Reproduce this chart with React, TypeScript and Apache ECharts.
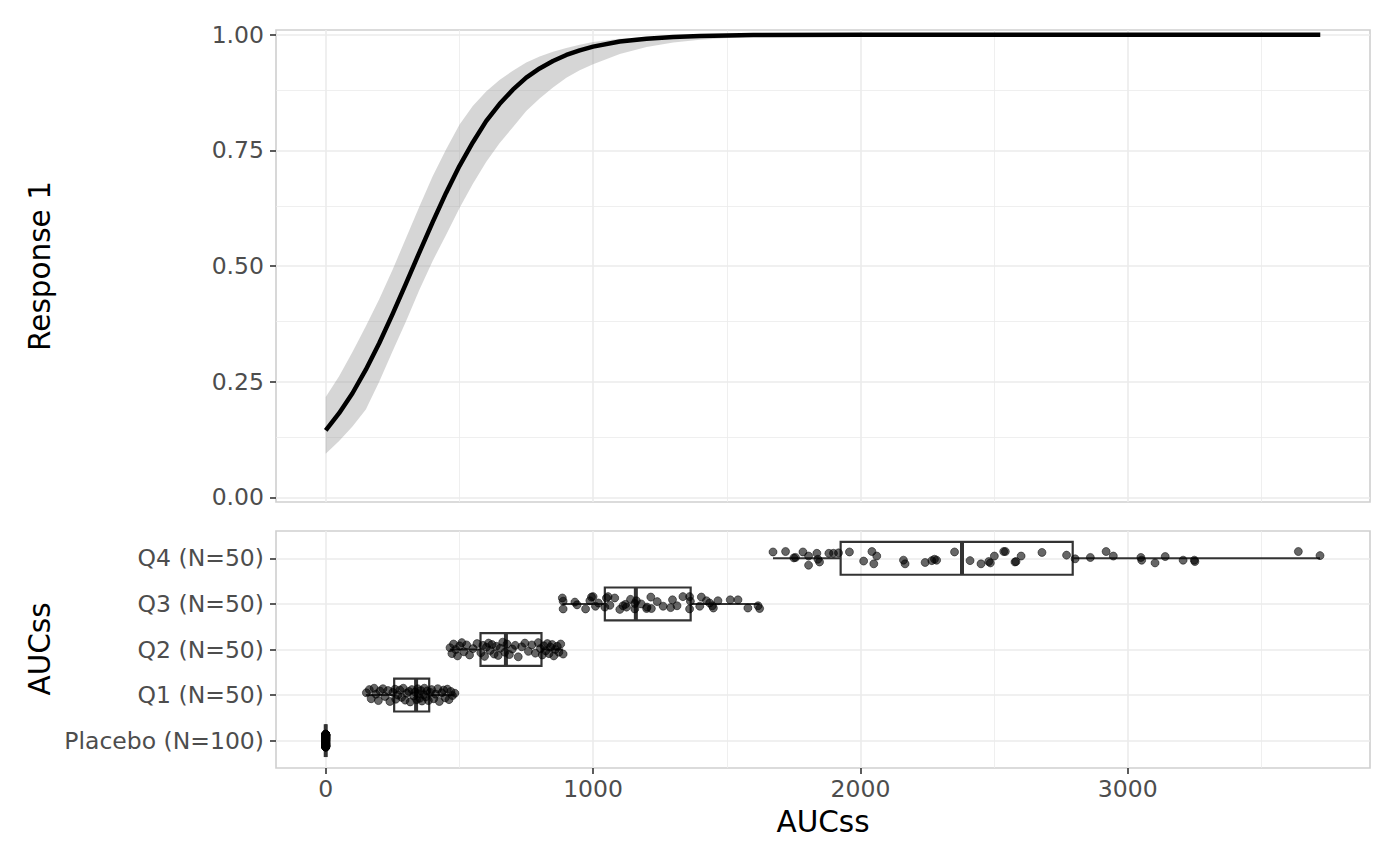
import React, { useEffect, useRef } from "react";
import * as echarts from "echarts";

// ---------- data ----------
const CATEGORIES = ["Placebo (N=100)", "Q1 (N=50)", "Q2 (N=50)", "Q3 (N=50)", "Q4 (N=50)"];

// fitted curve
const CURVE_X = [0, 50, 100, 150, 200, 250, 300, 350, 400, 450, 500, 550, 600, 650, 700, 750, 800, 850, 900, 950, 1000, 1100, 1200, 1300, 1400, 1600, 2000, 2500, 3000, 3720];
const CURVE_Y = [0.145, 0.182, 0.225, 0.276, 0.333, 0.396, 0.462, 0.529, 0.595, 0.658, 0.716, 0.767, 0.813, 0.85, 0.881, 0.907, 0.927, 0.943, 0.956, 0.966, 0.974, 0.985, 0.991, 0.995, 0.997, 0.999, 1.0, 1.0, 1.0, 1.0];
const RIBBON_LOW = [0.094, 0.122, 0.153, 0.19, 0.25, 0.316, 0.38, 0.448, 0.511, 0.567, 0.625, 0.677, 0.725, 0.765, 0.8, 0.835, 0.862, 0.886, 0.907, 0.923, 0.936, 0.958, 0.973, 0.983, 0.989, 0.996, 0.999, 1.0, 1.0, 1.0];
const RIBBON_HIGH = [0.217, 0.262, 0.314, 0.37, 0.428, 0.492, 0.56, 0.628, 0.694, 0.752, 0.805, 0.846, 0.877, 0.902, 0.922, 0.94, 0.953, 0.963, 0.971, 0.978, 0.984, 0.991, 0.995, 0.997, 0.998, 0.9995, 1.0, 1.0, 1.0, 1.0];

// boxplot stats: [category index, min, q1, median, q3, max]
const BOXES = [
  [0, 0, 0, 0, 0, 0],
  [1, 150, 256, 338, 387, 483],
  [2, 464, 579, 674, 807, 888],
  [3, 885, 1044, 1160, 1365, 1623],
  [4, 1673, 1926, 2380, 2794, 3719],
];

// points: AUCss values and vertical jitter
const PLACEBO_AUC = 0;
const PLACEBO_JITTER = [
  0.02, -0.11, 0.13, -0.04, 0.07, -0.14, 0.1, 0.0, -0.08, 0.12,
  -0.02, 0.05, -0.12, 0.14, -0.06, 0.09, -0.1, 0.03, 0.11, -0.13,
  0.06, -0.01, 0.13, -0.09, 0.04, 0.08, -0.05, -0.14, 0.12, 0.01,
  -0.07, 0.1, -0.03, 0.14, -0.11, 0.05, -0.12, 0.09, 0.02, -0.06,
  0.11, -0.09, 0.07, -0.13, 0.0, 0.13, -0.04, 0.06, -0.1, 0.12,
  -0.02, 0.08, -0.14, 0.03, 0.1, -0.07, 0.14, -0.05, 0.04, -0.12,
  0.09, -0.01, 0.11, -0.08, 0.05, -0.13, 0.12, 0.01, -0.1, 0.07,
  -0.03, 0.13, -0.06, 0.02, -0.11, 0.1, -0.14, 0.06, 0.0, -0.09,
  0.14, -0.04, 0.08, -0.12, 0.03, 0.11, -0.07, 0.05, -0.02, 0.12,
  -0.1, 0.09, -0.13, 0.04, 0.01, -0.05, 0.13, -0.08, 0.07, -0.11,
];
const Q1_X = [152, 163, 170, 181, 188, 197, 203, 214, 222, 233, 240, 251, 259, 262, 270, 277, 284, 290, 297, 303, 311, 316, 322, 329, 334, 340, 344, 347, 352, 356, 360, 366, 369, 374, 379, 384, 391, 396, 404, 411, 419, 425, 434, 441, 447, 455, 461, 468, 474, 483];
const Q1_J = [0.05, 0.12, -0.08, 0.15, 0.02, -0.12, 0.09, 0.14, -0.03, 0.1, -0.14, 0.06, 0.13, -0.09, 0.0, 0.11, -0.05, 0.15, -0.11, 0.04, 0.08, -0.15, 0.12, -0.02, 0.07, -0.1, 0.14, 0.03, -0.07, 0.1, -0.13, 0.01, 0.15, -0.04, 0.09, -0.12, 0.06, 0.12, -0.08, 0.02, 0.14, -0.14, 0.05, 0.11, -0.06, 0.13, -0.1, 0.08, -0.01, 0.04];
const Q2_X = [465, 472, 478, 486, 493, 501, 509, 517, 527, 538, 551, 566, 580, 588, 594, 601, 609, 615, 622, 630, 638, 645, 653, 662, 670, 678, 687, 698, 709, 720, 733, 745, 758, 771, 784, 795, 803, 810, 816, 823, 829, 835, 841, 847, 853, 859, 866, 872, 879, 888];
const Q2_J = [0.04, -0.09, 0.12, 0.0, -0.14, 0.08, 0.15, -0.05, 0.1, -0.12, 0.02, 0.13, -0.07, 0.09, -0.15, 0.05, 0.14, -0.02, 0.11, -0.1, 0.07, -0.13, 0.03, 0.16, -0.06, 0.12, -0.11, 0.01, 0.09, -0.16, 0.06, 0.14, -0.04, 0.1, -0.08, 0.15, 0.02, -0.12, 0.08, -0.03, 0.13, -0.09, 0.05, 0.11, -0.14, 0.0, 0.07, -0.06, 0.12, -0.1];
const Q3_X = [885, 888, 888, 932, 940, 972, 988, 994, 1000, 1009, 1020, 1044, 1050, 1056, 1063, 1081, 1100, 1112, 1121, 1125, 1140, 1156, 1156, 1162, 1180, 1200, 1202, 1216, 1218, 1240, 1262, 1290, 1297, 1314, 1336, 1361, 1361, 1364, 1399, 1405, 1424, 1436, 1446, 1450, 1467, 1513, 1542, 1579, 1617, 1623];
const Q3_J = [0.13, 0.06, -0.11, 0.04, -0.02, -0.11, 0.07, 0.15, 0.16, -0.05, 0.02, -0.07, 0.13, 0.16, -0.03, 0.13, -0.12, -0.04, -0.01, -0.07, 0.1, 0.01, -0.11, 0.07, 0.0, -0.1, -0.07, 0.15, -0.1, 0.05, -0.05, -0.08, 0.09, -0.04, 0.16, 0.16, -0.11, 0.06, -0.05, 0.15, 0.07, 0.02, -0.04, -0.09, 0.07, 0.09, 0.09, -0.09, -0.04, -0.1];
const Q4_X = [1673, 1720, 1751, 1757, 1785, 1806, 1806, 1837, 1841, 1847, 1882, 1899, 1918, 1959, 2012, 2043, 2061, 2050, 2161, 2167, 2242, 2267, 2277, 2285, 2352, 2410, 2451, 2480, 2486, 2501, 2536, 2542, 2578, 2582, 2601, 2679, 2771, 2803, 2860, 2919, 2946, 3049, 3052, 3102, 3140, 3207, 3249, 3251, 3638, 3719];
const Q4_J = [0.14, 0.15, 0.01, 0.02, 0.14, 0.05, -0.15, 0.11, -0.02, -0.08, 0.11, 0.11, 0.12, 0.14, -0.06, 0.15, 0.05, -0.12, -0.04, -0.12, -0.09, -0.05, -0.02, -0.04, 0.14, -0.05, -0.12, -0.07, -0.1, 0.05, 0.15, 0.15, -0.08, -0.07, 0.05, 0.13, 0.07, -0.01, 0.02, 0.15, 0.05, 0.02, -0.04, -0.1, 0.04, -0.04, -0.04, -0.07, 0.15, 0.06];

// axes
const X_MIN = -186;
const X_MAX = 3906;
const X_TICKS = [0, 1000, 2000, 3000];
const X_MINOR = [500, 1500, 2500, 3500];
const Y_TICKS = [0, 0.25, 0.5, 0.75, 1];
const Y_MINOR = [0.125, 0.375, 0.625, 0.875];
const CAT_TICKS = [0, 1, 2, 3, 4];

// ---------- styles ----------
const FONT = '"DejaVu Sans", "Liberation Sans", sans-serif';
const GRID_COLOR = "#ebebeb";
const BOX_HALF = 0.36;

function App() {
  const ref = useRef<HTMLDivElement>(null);

  useEffect(() => {
    if (!ref.current) return;
    const chart = echarts.init(ref.current, null, { renderer: "svg" });

    const gridLines = (xs: number[], ys: number[], xsMinor: number[], ysMinor: number[]) => [
      ...xs.map((v) => ({ xAxis: v, lineStyle: { color: GRID_COLOR, width: 1.6, type: "solid" } })),
      ...xsMinor.map((v) => ({ xAxis: v, lineStyle: { color: GRID_COLOR, width: 0.8, type: "solid" } })),
      ...ys.map((v) => ({ yAxis: v, lineStyle: { color: GRID_COLOR, width: 1.6, type: "solid" } })),
      ...ysMinor.map((v) => ({ yAxis: v, lineStyle: { color: GRID_COLOR, width: 0.8, type: "solid" } })),
    ];

    const ribbonRows = CURVE_X.map((x, i) => [x, RIBBON_LOW[i], RIBBON_HIGH[i]]);
    const pts = (xs: number[], js: number[], cat: number) => xs.map((x, i) => [x, cat + js[i]]);
    const allPoints = [
      ...PLACEBO_JITTER.map((j) => [PLACEBO_AUC, 0 + j]),
      ...pts(Q1_X, Q1_J, 1),
      ...pts(Q2_X, Q2_J, 2),
      ...pts(Q3_X, Q3_J, 3),
      ...pts(Q4_X, Q4_J, 4),
    ];

    const axisLabelStyle = { color: "#4d4d4d", fontSize: 23.5, fontFamily: FONT };
    const tickStyle = { show: true, length: 6, lineStyle: { color: "#333333", width: 1.6 } };
    const noLine = { show: false, onZero: false };

    const option: any = {
      animation: false,
      backgroundColor: "#ffffff",
      grid: [
        { left: 276, right: 30, top: 30, height: 472, show: true, borderColor: "#cfcfcf", borderWidth: 1.6, backgroundColor: "transparent" },
        { left: 276, right: 30, top: 531, height: 237, show: true, borderColor: "#cfcfcf", borderWidth: 1.6, backgroundColor: "transparent" },
      ],
      xAxis: [
        {
          type: "value", gridIndex: 0, min: X_MIN, max: X_MAX, position: "bottom",
          axisLine: noLine, axisTick: { show: false }, axisLabel: { show: false },
          splitLine: { show: false },
        },
        {
          type: "value", gridIndex: 1, min: X_MIN, max: X_MAX, position: "bottom",
          axisLine: noLine,
          axisTick: { ...tickStyle, customValues: X_TICKS },
          axisLabel: { ...axisLabelStyle, margin: 9, customValues: X_TICKS, formatter: (v: number) => String(v) },
          splitLine: { show: false },
        },
      ],
      yAxis: [
        {
          type: "value", gridIndex: 0, min: -0.01, max: 1.01, position: "left",
          axisLine: noLine,
          axisTick: { ...tickStyle, customValues: Y_TICKS },
          axisLabel: { ...axisLabelStyle, margin: 12, customValues: Y_TICKS, formatter: (v: number) => v.toFixed(2) },
          splitLine: { show: false },
        },
        {
          type: "value", gridIndex: 1, min: -0.6, max: 4.6, position: "left",
          axisLine: noLine,
          axisTick: { ...tickStyle, customValues: CAT_TICKS },
          axisLabel: { ...axisLabelStyle, margin: 12, customValues: CAT_TICKS, formatter: (v: number) => CATEGORIES[Math.round(v)] },
          splitLine: { show: false },
        },
      ],
      graphic: [
        { type: "text", x: 40, y: 266, rotation: Math.PI / 2, style: { text: "Response 1", font: `29.5px ${FONT}`, fill: "#000000", align: "center", verticalAlign: "middle" } },
        { type: "text", x: 40, y: 649, rotation: Math.PI / 2, style: { text: "AUCss", font: `29.5px ${FONT}`, fill: "#000000", align: "center", verticalAlign: "middle" } },
        { type: "text", x: 823, y: 822, style: { text: "AUCss", font: `29.5px ${FONT}`, fill: "#000000", align: "center", verticalAlign: "middle" } },
      ],
      series: [
        {
          type: "line", xAxisIndex: 0, yAxisIndex: 0, data: [], z: 1, silent: true,
          markLine: { z: 1, silent: true, animation: false, symbol: ["none", "none"], label: { show: false }, emphasis: { disabled: true }, data: gridLines(X_TICKS, Y_TICKS, X_MINOR, Y_MINOR) },
        },
        {
          type: "line", xAxisIndex: 1, yAxisIndex: 1, data: [], z: 1, silent: true,
          markLine: { z: 1, silent: true, animation: false, symbol: ["none", "none"], label: { show: false }, emphasis: { disabled: true }, data: gridLines(X_TICKS, CAT_TICKS, X_MINOR, []) },
        },
        {
          type: "custom", xAxisIndex: 0, yAxisIndex: 0, z: 3, silent: true,
          data: ribbonRows,
          encode: { x: 0, y: [1, 2] },
          renderItem: (params: any, api: any) => {
            if (params.dataIndex !== 0) return null;
            const lower = ribbonRows.map((r) => api.coord([r[0], r[1]]));
            const upper = ribbonRows.map((r) => api.coord([r[0], r[2]])).reverse();
            return {
              type: "polygon",
              shape: { points: [...lower, ...upper], smooth: 0 },
              style: { fill: "rgba(153,153,153,0.4)", stroke: "none" },
            };
          },
        },
        {
          type: "line", xAxisIndex: 0, yAxisIndex: 0, z: 4, silent: true,
          data: CURVE_X.map((x, i) => [x, CURVE_Y[i]]),
          showSymbol: false, symbol: "none", smooth: false,
          lineStyle: { color: "#000000", width: 4.5, cap: "butt", join: "round" },
        },
        {
          type: "custom", xAxisIndex: 1, yAxisIndex: 1, z: 3, silent: true,
          data: BOXES,
          encode: { x: [1, 2, 3, 4, 5], y: 0 },
          renderItem: (params: any, api: any) => {
            const cat = api.value(0);
            const pMin = api.coord([api.value(1), cat]);
            const pQ1 = api.coord([api.value(2), cat]);
            const pMed = api.coord([api.value(3), cat]);
            const pQ3 = api.coord([api.value(4), cat]);
            const pMax = api.coord([api.value(5), cat]);
            const top = api.coord([api.value(2), cat + BOX_HALF])[1];
            const bot = api.coord([api.value(2), cat - BOX_HALF])[1];
            const stroke = "#333333";
            return {
              type: "group",
              children: [
                { type: "line", shape: { x1: pMin[0], y1: pMin[1], x2: pQ1[0], y2: pQ1[1] }, style: { stroke, lineWidth: 2 } },
                { type: "line", shape: { x1: pQ3[0], y1: pQ3[1], x2: pMax[0], y2: pMax[1] }, style: { stroke, lineWidth: 2 } },
                { type: "rect", shape: { x: pQ1[0], y: top, width: pQ3[0] - pQ1[0], height: bot - top }, style: { fill: "none", stroke, lineWidth: 2.2 } },
                { type: "line", shape: { x1: pMed[0], y1: top, x2: pMed[0], y2: bot }, style: { stroke, lineWidth: 4 } },
              ],
            };
          },
        },
        {
          type: "scatter", xAxisIndex: 1, yAxisIndex: 1, z: 5, silent: true,
          data: allPoints,
          symbol: "circle", symbolSize: 8,
          itemStyle: { color: "rgba(0,0,0,0.6)", borderColor: "rgba(0,0,0,0.5)", borderWidth: 1, opacity: 1 },
        },
      ],
    };

    chart.setOption(option);
    return () => chart.dispose();
  }, []);

  return <div ref={ref} style={{ position: "absolute", left: 0, top: 0, width: 1400, height: 866 }} />;
}

export default App;
